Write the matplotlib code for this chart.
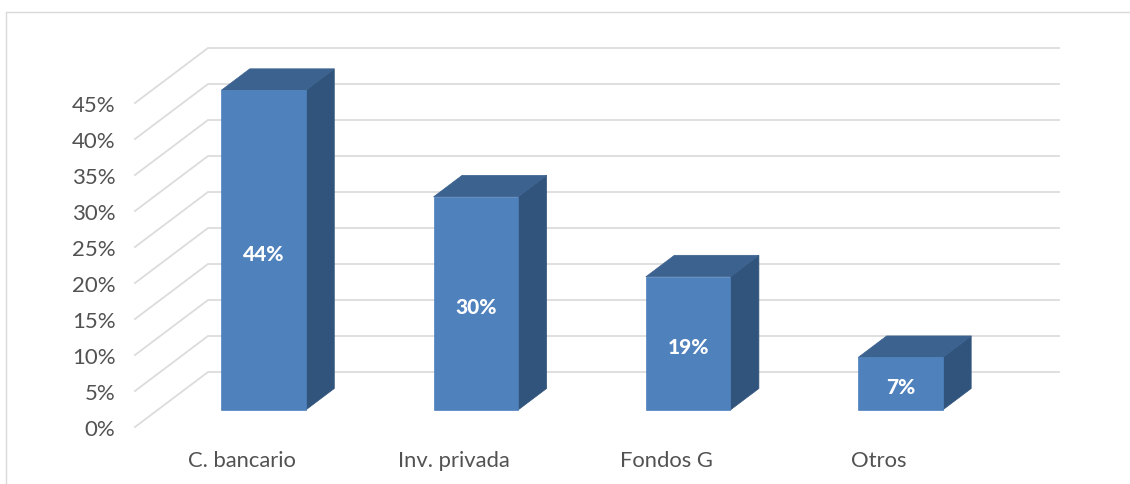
import numpy as np
from matplotlib import pyplot as plt
from matplotlib.lines import Line2D

categorias = ['C. bancario', 'Inv. privada', 'Fondos G', 'Otros']
alturas = [44.4, 29.6, 18.5, 7.3]
etiquetas = ['44%', '30%', '19%', '7%']
niveles = [0, 5, 10, 15, 20, 25, 30, 35, 40, 45]
niveles_txt = ['0%', '5%', '10%', '15%', '20%', '25%', '30%', '35%', '40%', '45%']

W, H = 1130, 485
PX_CAT = 212.3  # pixels per category
PX_PCT = 7.2    # pixels per percent
FONDO_X = 73 / PX_CAT   # depth of the walls
FONDO_Y = 55 / PX_PCT
GRIS = '#dcdcdc'
TEXTO = '#525252'

plt.rcParams['font.family'] = ['Lato', 'DejaVu Sans']

fig = plt.figure(figsize=(W / 100, H / 100), dpi=100, facecolor='white')
ax = fig.add_axes([135 / W, (H - 428) / H, (1059 - 135) / W, 380 / H])
ax.set_xlim((135 - 263.5) / PX_CAT, (1059 - 263.5) / PX_CAT)
ax.set_ylim(0, 380 / PX_PCT)
x0, x1 = ax.get_xlim()


def punto(x, y, d):
    # front plane coordinates to depth d (0 front, 1 back wall)
    return x + FONDO_X * d, y + FONDO_Y * d


# walls
for n in niveles:
    xa, ya = punto(x0, n, 0)
    xb, yb = punto(x0, n, 1)
    ax.plot([xa, xb, x1], [ya, yb, yb], color=GRIS, lw=1.3, clip_on=False,
            solid_joinstyle='miter', zorder=1)

# bars
ancho = 84.5 / PX_CAT
d_ini = 17 / 55
d_fin = 38.5 / 55
pos = np.arange(len(categorias))
for i, h in zip(pos, alturas):
    xl = i - ancho / 2 - FONDO_X * d_ini
    xr = xl + ancho
    a = punto(xl, 0, d_ini)
    b = punto(xr, 0, d_ini)
    c = punto(xr, h, d_ini)
    e = punto(xl, h, d_ini)
    f = punto(xr, 0, d_fin)
    g = punto(xr, h, d_fin)
    k = punto(xl, h, d_fin)
    ax.fill(*zip(b, f, g, c), color='#31547c', lw=0.5, clip_on=False, zorder=3)
    ax.fill(*zip(e, c, g, k), color='#3c628f', lw=0.5, clip_on=False, zorder=3)
    ax.fill(*zip(a, b, c, e), color='#4f81bd', lw=0.5, clip_on=False, zorder=4)

for i, h, t in zip(pos, alturas, etiquetas):
    ax.text(i, FONDO_Y * d_ini + h / 2 - 0.2, t, color='white', fontsize=15, fontweight='black',
            ha='center', va='center_baseline', zorder=5)

ax.set_yticks(niveles, niveles_txt)
ax.set_xticks(pos - 22 / PX_CAT, categorias)
ax.tick_params(axis='y', length=0, pad=14, labelsize=16, labelcolor=TEXTO)
ax.tick_params(axis='x', length=0, pad=16.5, labelsize=15.8, labelcolor=TEXTO)
for s in ax.spines.values():
    s.set_visible(False)
ax.patch.set_visible(False)

# outer frame of the pasted chart
fig.add_artist(Line2D([5.5 / W, 5.5 / W, 1], [0, (H - 12.5) / H, (H - 12.5) / H],
                      color='#d9d9d9', lw=1.0, transform=fig.transFigure))

plt.savefig('out.png', dpi=100)
